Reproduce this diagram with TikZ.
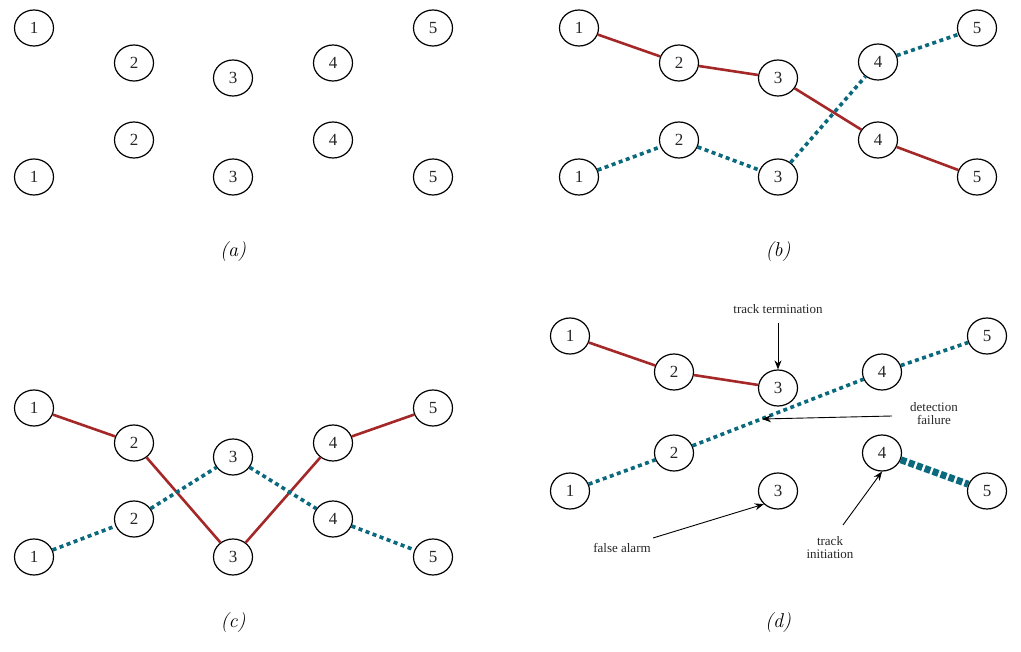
\documentclass[tikz,border=0pt]{standalone}
\usepackage{fontspec}
\usetikzlibrary{shapes.geometric,arrows.meta}
\newfontfamily\trk{Liberation Serif}
\definecolor{trackred}{RGB}{165,40,40}
\definecolor{trackblue}{RGB}{10,105,125}
\tikzset{
  st/.style={ellipse,draw=black,line width=1.2pt,minimum width=39pt,minimum height=36pt,inner sep=0pt,font=\trk\fontsize{17}{17}\selectfont,text=black!85},
  redline/.style={draw=trackred,line width=2.6pt},
  blueline/.style={draw=trackblue,line width=3.6pt,dash pattern=on 4pt off 3.5pt},
  bluethick/.style={draw=trackblue,line width=7pt,dash pattern=on 6pt off 2.5pt},
  captext/.style={font=\fontsize{20}{20}\selectfont\itshape},
  note/.style={font=\trk\fontsize{13}{15}\selectfont,align=center,text=black!85},
  ann/.style={draw=black,line width=0.9pt,-{Stealth[length=9pt,width=7pt]}}
}
\begin{document}
\begin{tikzpicture}[x=1pt,y=-1pt]
\useasboundingbox (0,0) rectangle (1021,652);
% ---------- (a)
\node[st] (a1t) at (34,28) {1};
\node[st] (a2t) at (134,63) {2};
\node[st] (a3t) at (233,78) {3};
\node[st] (a4t) at (333,63) {4};
\node[st] (a5t) at (433,28) {5};
\node[st] (a2b) at (134,140) {2};
\node[st] (a4b) at (333,140) {4};
\node[st] (a1b) at (34,177) {1};
\node[st] (a3b) at (233,177) {3};
\node[st] (a5b) at (433,177) {5};
\node[captext] (capa) at (233,252) {(a)};
% ---------- (b)
\node[st] (b1t) at (579,28) {1};
\node[st] (b2t) at (679,63) {2};
\node[st] (b3t) at (778,78) {3};
\node[st] (b4t) at (878,62) {4};
\node[st] (b5t) at (977,28) {5};
\node[st] (b2b) at (679,140) {2};
\node[st] (b4b) at (878,140) {4};
\node[st] (b1b) at (579,177) {1};
\node[st] (b3b) at (778,177) {3};
\node[st] (b5b) at (977,177) {5};
\node[captext] (capb) at (778,252) {(b)};
\draw[redline] (b1t) -- (b2t) -- (b3t) -- (b4b) -- (b5b);
\draw[blueline] (b1b) -- (b2b);
\draw[blueline] (b2b) -- (b3b);
\draw[blueline] (b3b) -- (b4t);
\draw[blueline] (b4t) -- (b5t);
% ---------- (c)
\node[st] (c1t) at (34,408) {1};
\node[st] (c2t) at (134,443) {2};
\node[st] (c3m) at (233,457) {3};
\node[st] (c4t) at (333,443) {4};
\node[st] (c5t) at (433,408) {5};
\node[st] (c2l) at (134,519) {2};
\node[st] (c4l) at (333,519) {4};
\node[st] (c1b) at (34,557) {1};
\node[st] (c3b) at (233,557) {3};
\node[st] (c5b) at (433,557) {5};
\node[captext] (capc) at (233,623) {(c)};
\draw[redline] (c1t) -- (c2t) -- (c3b) -- (c4t) -- (c5t);
\draw[blueline] (c1b) -- (c2l);
\draw[blueline] (c2l) -- (c3m);
\draw[blueline] (c3m) -- (c4l);
\draw[blueline] (c4l) -- (c5b);
% ---------- (d)
\node[st] (d1t) at (570,336) {1};
\node[st] (d2t) at (674,372) {2};
\node[st] (d3t) at (778,388) {3};
\node[st] (d4t) at (882,372) {4};
\node[st] (d5t) at (987,336) {5};
\node[st] (d2l) at (674,453) {2};
\node[st] (d4l) at (882,453) {4};
\node[st] (d1b) at (570,491) {1};
\node[st] (d3b) at (778,491) {3};
\node[st] (d5b) at (987,491) {5};
\node[captext] (capd) at (778,623) {(d)};
\draw[redline] (d1t) -- (d2t) -- (d3t);
\draw[blueline] (d1b) -- (d2l);
\draw[blueline] (d2l) -- (d4t);
\draw[blueline] (d4t) -- (d5t);
\draw[bluethick] (d4l) -- (d5b);
% annotations
\node[note] (nterm) at (778,309) {track termination};
\draw[ann] (nterm.south) ++(0,6) -- (d3t.north);
\node[note] (nfail) at (934,414) {detection\\[-2pt]failure};
\coordinate (failpt) at (762,419);
\draw[ann] (892,416) coordinate (failstart) -- (failpt);
\node[note] (nfalse) at (622,548) {false alarm};
\draw[ann] (653,538) coordinate (falsestart) -- (d3b.south west);
\node[note] (ninit) at (830,548) {track\\[-2pt]initiation};
\draw[ann] (843,525) coordinate (initstart) -- (d4l.south);
\end{tikzpicture}
\end{document}
